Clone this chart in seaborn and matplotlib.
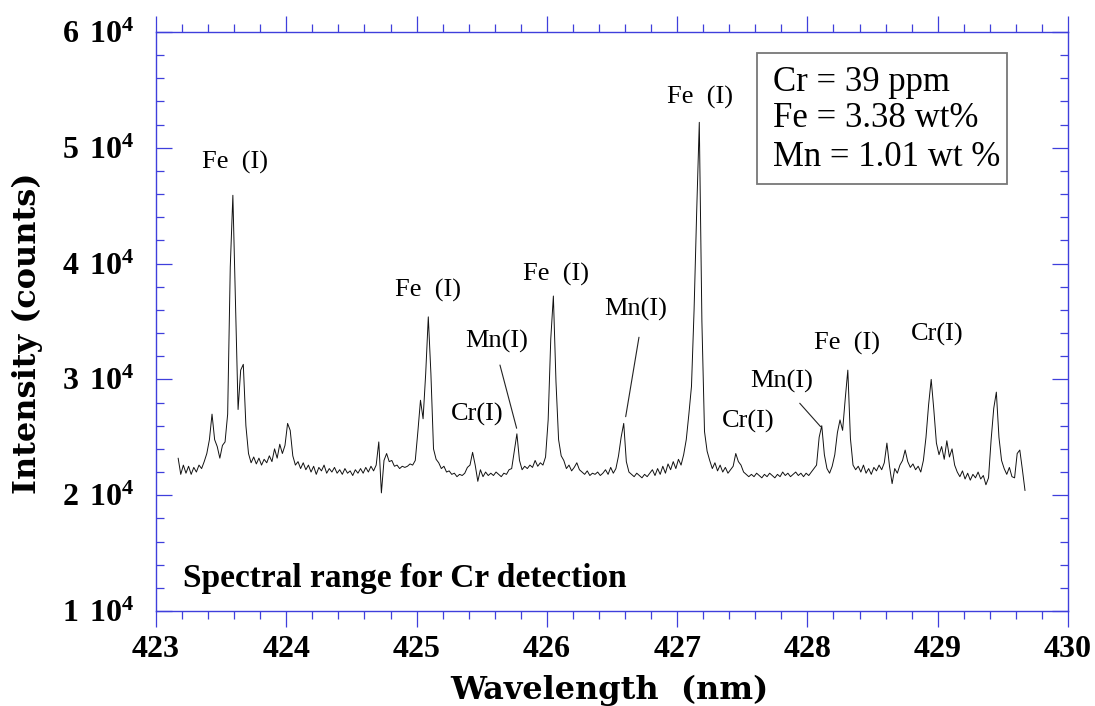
import numpy as np
import pandas as pd
import matplotlib
matplotlib.use("Agg")
import matplotlib.pyplot as plt
from matplotlib.ticker import MultipleLocator, FuncFormatter
from matplotlib.patches import Rectangle
import seaborn as sns

# ---- spectrum: intensity in kilo-counts, sampled every 0.02 nm from 423.17 nm ----
wl_start = 423.17
wl_step = 0.02
intensity_k = [
    23.2, 21.8, 22.6, 21.9, 22.5, 21.8, 22.4, 22.0, 22.6, 22.3,   # 423.17
    22.9, 23.6, 24.8, 27.0, 24.8, 24.2, 23.2, 24.3, 24.6, 27.0,   # 423.37
    39.7, 45.9, 36.5, 27.4, 30.8, 31.3, 26.0, 23.6, 22.8, 23.3,   # 423.57
    22.7, 23.2, 22.6, 23.1, 22.8, 23.4, 22.9, 24.0, 23.2, 24.4,   # 423.77
    23.6, 24.3, 26.2, 25.6, 23.4, 22.6, 22.9, 22.3, 22.8, 22.2,   # 423.97
    22.6, 22.0, 22.5, 21.8, 22.4, 22.1, 22.6, 21.9, 22.3, 22.0,   # 424.17
    22.4, 21.9, 22.2, 21.8, 22.3, 21.9, 22.1, 21.7, 22.2, 21.9,   # 424.37
    22.3, 21.9, 22.4, 22.0, 22.5, 22.1, 22.6, 24.6, 20.2, 23.0,   # 424.57
    23.6, 22.9, 23.0, 22.5, 22.6, 22.3, 22.5, 22.4, 22.5, 22.7,   # 424.77
    22.6, 23.0, 25.5, 28.2, 26.6, 30.5, 35.4, 30.5, 24.0, 23.1,   # 424.97
    22.8, 22.3, 22.5, 22.0, 22.1, 21.8, 21.9, 21.6, 21.8, 21.7,   # 425.17
    21.9, 22.4, 22.6, 23.7, 22.6, 21.2, 22.2, 21.6, 22.0, 21.7,   # 425.37
    21.9, 21.7, 22.0, 21.8, 21.6, 21.9, 21.8, 22.2, 22.3, 23.8,   # 425.57
    25.3, 23.0, 22.2, 22.5, 22.3, 22.6, 22.4, 23.0, 22.5, 22.8,   # 425.77
    22.6, 23.3, 26.5, 33.5, 37.2, 29.8, 24.8, 23.4, 23.0, 22.3,   # 425.97
    22.6, 22.1, 22.4, 22.8, 22.2, 22.0, 21.8, 22.1, 21.7, 21.9,   # 426.17
    21.8, 22.0, 21.7, 21.9, 22.2, 21.8, 22.4, 21.9, 22.3, 23.4,   # 426.37
    25.0, 26.2, 22.9, 22.0, 21.8, 21.6, 21.9, 21.7, 21.5, 21.8,   # 426.57
    21.6, 21.9, 22.2, 21.7, 22.3, 21.8, 22.5, 21.9, 22.7, 22.2,   # 426.77
    22.9, 22.3, 23.1, 22.6, 23.5, 24.8, 27.0, 29.4, 36.0, 44.5,   # 426.97
    52.2, 35.0, 25.5, 23.8, 23.0, 22.3, 22.8, 22.1, 22.6, 22.0,   # 427.17
    22.4, 21.9, 22.2, 22.5, 23.6, 22.9, 22.6, 22.0, 21.8, 21.6,   # 427.37
    21.8, 21.6, 21.9, 21.7, 21.5, 21.8, 21.6, 21.9, 21.7, 21.5,   # 427.57
    21.8, 21.6, 22.0, 21.7, 21.9, 21.6, 21.8, 22.0, 21.7, 21.9,   # 427.77
    21.6, 21.9, 21.7, 22.0, 22.3, 22.6, 25.0, 26.0, 23.5, 22.3,   # 427.97
    21.9, 22.5, 23.5, 25.4, 26.5, 25.6, 28.3, 30.8, 24.9, 22.6,   # 428.17
    22.2, 22.5, 22.0, 22.6, 21.9, 22.3, 21.8, 22.4, 22.1, 22.6,   # 428.37
    22.2, 22.8, 24.5, 22.5, 21.0, 22.3, 21.9, 22.6, 23.0, 23.9,   # 428.57
    22.9, 22.4, 22.7, 22.2, 22.5, 22.0, 23.0, 25.0, 27.8, 30.0,   # 428.77
    27.4, 24.5, 23.5, 24.2, 23.1, 24.7, 23.3, 24.0, 22.6, 22.0,   # 428.97
    21.6, 22.1, 21.4, 21.9, 21.3, 21.8, 21.5, 22.0, 21.4, 21.7,   # 429.17
    20.9, 21.5, 24.8, 27.5, 28.9, 25.0, 23.0, 22.3, 21.8, 22.4,   # 429.37
    21.6, 21.5, 23.6, 23.9, 22.2, 20.4,                           # 429.57
]

# ---- line identifications ----
line_labels = ["Fe  (I)", "Fe  (I)", "Mn(I)", "Cr(I)", "Fe  (I)", "Mn(I)",
               "Fe  (I)", "Cr(I)", "Mn(I)", "Fe  (I)", "Cr(I)"]
label_wl = [423.606, 425.090, 425.615, 425.464, 426.074, 426.680,
            427.175, 427.543, 427.804, 428.307, 428.998]
label_int = [48700, 37640, 33260, 27010, 39100, 36000,
             54390, 26410, 29860, 33140, 33920]

# leader lines (Mn lines): start/end wavelengths and intensities
leader_wl = [(425.640, 425.768), (426.707, 426.605), (427.941, 428.101)]
leader_int = [(31240, 25780), (33640, 26780), (27940, 25920)]

composition = ["Cr = 39 ppm", "Fe = 3.38 wt%", "Mn = 1.01 wt %"]

blue = "#3f3fdc"

sns.set_theme(style="white")
plt.rcParams["font.family"] = ["Liberation Serif", "DejaVu Serif"]
plt.rcParams["font.weight"] = "bold"
plt.rcParams["mathtext.fontset"] = "custom"
plt.rcParams["mathtext.rm"] = "Liberation Serif"
plt.rcParams["mathtext.bf"] = "Liberation Serif:bold"

wavelength = wl_start + wl_step * np.arange(len(intensity_k))
df = pd.DataFrame({"wavelength": wavelength,
                   "intensity": np.array(intensity_k) * 1000.0})

fig = plt.figure(figsize=(10.95, 7.06), dpi=100)
ax = fig.add_axes([156 / 1095, 1 - 611 / 706, (1068 - 156) / 1095, (611 - 32) / 706])

sns.lineplot(data=df, x="wavelength", y="intensity", ax=ax,
             color="#111111", linewidth=0.7)

ax.set_xlim(423, 430)
ax.set_ylim(1e4, 6e4)

# axes frame and ticks
for sp in ax.spines.values():
    sp.set_color(blue)
    sp.set_linewidth(1.0)
    sp.set_visible(True)

ax.xaxis.set_major_locator(MultipleLocator(1))
ax.xaxis.set_minor_locator(MultipleLocator(0.2))
ax.yaxis.set_major_locator(MultipleLocator(1e4))
ax.yaxis.set_minor_locator(MultipleLocator(2e3))
ax.xaxis.set_major_formatter(FuncFormatter(lambda v, p: f"{v:.0f}"))
ax.yaxis.set_major_formatter(
    FuncFormatter(lambda v, p: r"$\mathbf{%d\,\,10^{4}}$" % round(v / 1e4)))

ax.tick_params(axis="x", which="both", direction="out", bottom=True, top=True,
               color=blue, width=0.9)
ax.tick_params(axis="x", which="major", length=11.5, pad=6, labelsize=23,
               labelcolor="black")
ax.tick_params(axis="x", which="minor", length=5.8)
ax.tick_params(axis="y", which="both", direction="in", left=True, right=True,
               color=blue, width=0.9)
ax.tick_params(axis="y", which="major", length=11.5, pad=16, labelsize=23,
               labelcolor="black")
ax.tick_params(axis="y", which="minor", length=5.8)
ax.grid(False)

label_font = dict(family=["DejaVu Serif"], size=23, weight="bold", color="black")
ax.set_xlabel("Wavelength  (nm)", fontdict=label_font)
ax.set_ylabel("Intensity (counts)", fontdict=label_font)
ax.xaxis.label.set_va("center")
ax.yaxis.label.set_va("center")
ax.xaxis.set_label_coords(0.4967, -0.1364)
ax.yaxis.set_label_coords(-0.1414, 0.48)

# peak identifications
for txt, x, y in zip(line_labels, label_wl, label_int):
    ax.text(x, y, txt, ha="center", va="center", fontsize=19,
            fontweight="normal", color="black")
for (x0, x1), (y0, y1) in zip(leader_wl, leader_int):
    ax.plot([x0, x1], [y0, y1], color="#222222", linewidth=0.8)

# composition box
ax.add_patch(Rectangle((427.610, 46876), 1.919, 11313, fill=False,
                       edgecolor="#777777", linewidth=1.3))
for txt, y in zip(composition, [54933, 51773, 48458]):
    ax.text(427.733, y, txt, ha="left", va="baseline", fontsize=25,
            fontweight="normal", color="black")

ax.text(423.207, 12073, "Spectral range for Cr detection", ha="left",
        va="baseline", fontsize=24, fontweight="bold", color="black")

fig.savefig("out.png", dpi=100)
